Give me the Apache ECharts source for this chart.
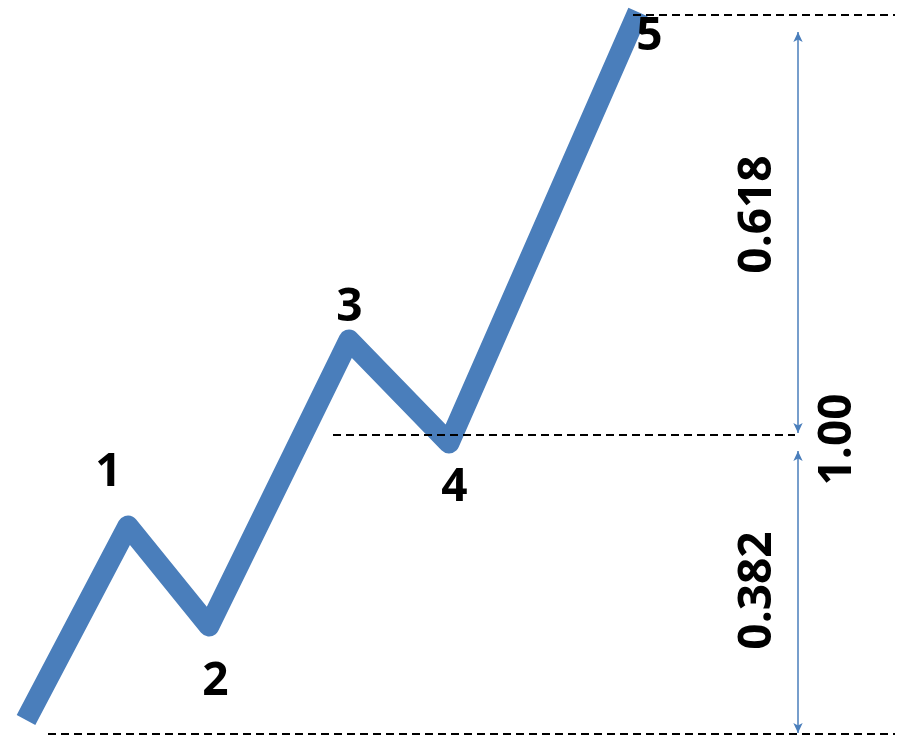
<!DOCTYPE html>
<html>
<head>
<meta charset="utf-8">
<script src="https://cdn.jsdelivr.net/npm/echarts@6/dist/echarts.min.js"></script>
<style>html,body{margin:0;padding:0;background:#fff}#c{width:899px;height:735px}</style>
</head>
<body>
<div id="c"></div>
<script>
// wave points (time, price)
var waveTime = [26, 128, 209, 349, 449, 638];
var wavePrice = [15, 209, 109, 395, 292, 723];
// wave labels
var waveLabels = ['1', '2', '3', '4', '5'];
var labelTime = [109, 216, 350, 455, 650];
var labelPrice = [262, 53, 427, 247, 698];
// fibonacci levels (price) and extents (time)
var levelNames = ['top', 'mid', 'base'];
var levelPrice = [720, 300, 1];
var levelStart = [633, 333, 48];
var levelEnd = [895, 795, 895];
// measurement arrows
var arrowTime = 798;
var arrowFrom = [703, 284];
var arrowTo = [302, 2];
// ratio labels
var ratioLabels = ['0.618', '1.00', '0.382'];
var ratioTime = [758, 838, 758];
var ratioPrice = [520, 295, 144];

var blue = '#4a7ebb';
var font = '"Open Sans", "Noto Sans", sans-serif';

var series = [];
series.push({
  type: 'line',
  data: waveTime.map(function (t, i) { return [t, wavePrice[i]]; }),
  symbol: 'none',
  lineStyle: { color: blue, width: 21, cap: 'butt', join: 'round' },
  silent: true,
  z: 3
});
levelNames.forEach(function (n, i) {
  series.push({
    type: 'line',
    name: n,
    data: [[levelStart[i], levelPrice[i]], [levelEnd[i], levelPrice[i]]],
    symbol: 'none',
    lineStyle: { color: '#000', width: 2, type: [8, 5] },
    silent: true,
    z: 4
  });
});
series.push({
  type: 'line',
  data: [],
  markLine: {
    silent: true,
    symbol: ['arrow', 'arrow'],
    symbolSize: [7, 10],
    label: { show: false },
    lineStyle: { color: blue, width: 1.5, type: 'solid' },
    data: arrowFrom.map(function (f, i) {
      return [{ coord: [arrowTime, f] }, { coord: [arrowTime, arrowTo[i]] }];
    })
  }
});
var labelStyle = {
  show: true, position: [0, 0], align: 'center', verticalAlign: 'middle', formatter: '{b}',
  color: '#000000', opacity: 1, textBorderWidth: 0, fontSize: 46, fontWeight: 'bold', fontFamily: font
};
series.push({
  type: 'scatter',
  data: labelTime.map(function (t, i) { return { value: [t, labelPrice[i]], name: waveLabels[i] }; }),
  symbolSize: 1,
  itemStyle: { opacity: 0 },
  silent: true,
  label: labelStyle,
  z: 5
});
series.push({
  type: 'scatter',
  data: ratioTime.map(function (t, i) { return { value: [t, ratioPrice[i]], name: ratioLabels[i] }; }),
  symbolSize: 1,
  itemStyle: { opacity: 0 },
  silent: true,
  label: Object.assign({}, labelStyle, { rotate: 90 }),
  z: 5
});

var chart = echarts.init(document.getElementById('c'));
chart.setOption({
  animation: false,
  backgroundColor: '#fff',
  grid: { left: 0, right: 0, top: 0, bottom: 0 },
  xAxis: { type: 'value', min: 0, max: 899, show: false },
  yAxis: { type: 'value', min: 0, max: 735, show: false },
  series: series
});
</script>
</body>
</html>
